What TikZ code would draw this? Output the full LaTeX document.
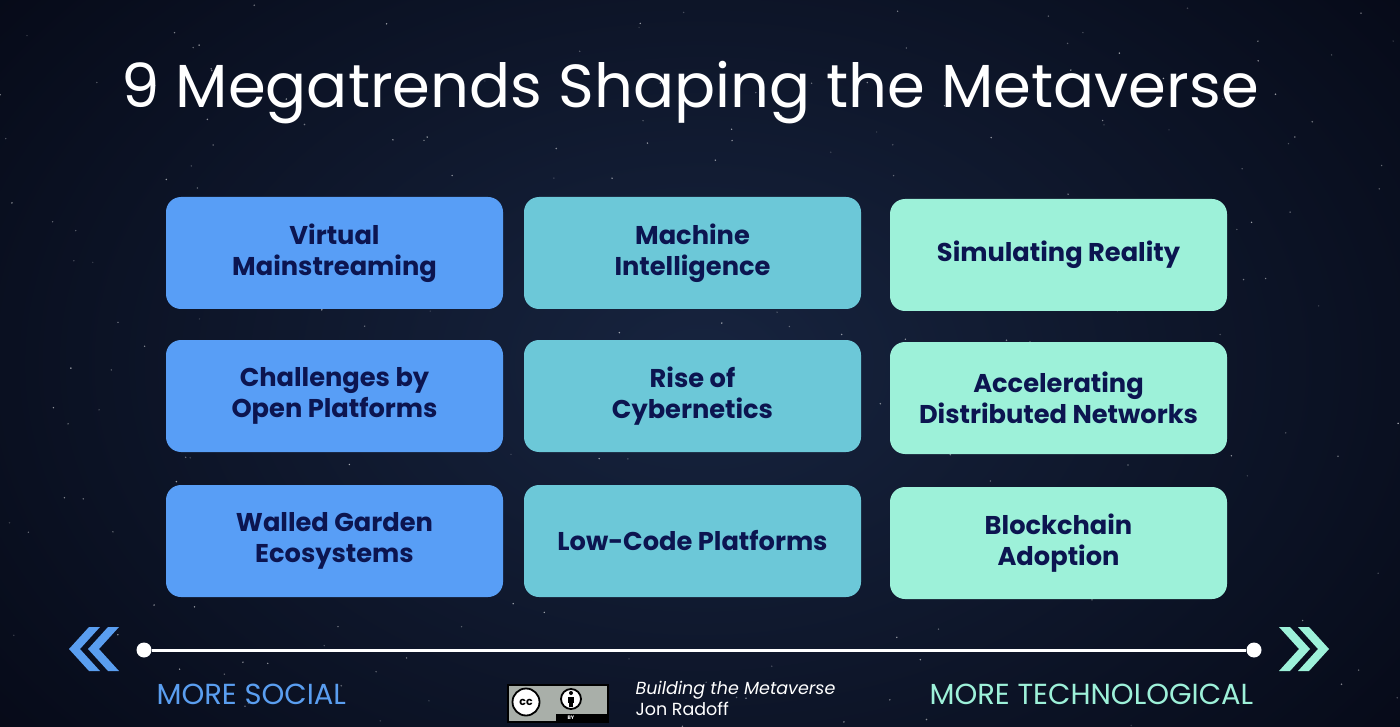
\documentclass[tikz,border=0pt]{standalone}
\usepackage{fontspec}
\setmainfont{Poppins}
\definecolor{bgout}{HTML}{060A18}
\definecolor{bgin}{HTML}{17243F}
\definecolor{cblue}{HTML}{589EF6}
\definecolor{cteal}{HTML}{6CC8D8}
\definecolor{cmint}{HTML}{9DF1D9}
\definecolor{navy}{HTML}{0C1550}
\definecolor{socialblue}{HTML}{5A9EF0}
\definecolor{techmint}{HTML}{9DF1D9}
\definecolor{ccgray}{HTML}{A9AFA9}
\begin{document}
\begin{tikzpicture}[x=1pt,y=-1pt,
  trend/.style={rounded corners=15pt, minimum width=337pt, minimum height=112pt,
    inner sep=0pt, align=center, text=navy,
    font=\bfseries\fontsize{25.7}{31}\selectfont},
  dotnode/.style={circle, fill=white, minimum size=15pt, inner sep=0pt},
  sidelabel/.style={anchor=base west, font=\fontsize{29}{32}\selectfont},
  footer/.style={anchor=base west, text=white, font=\fontsize{17.5}{20}\selectfont}]
% background
\useasboundingbox (0,0) rectangle (1400,727);
\fill[bgout] (0,0) rectangle (1400,727);
\shade[inner color=bgin, outer color=bgout] (-200,-250) rectangle (1600,977);
% stars
\pgfmathsetseed{7}
\foreach \i in {1,...,260}{
  \pgfmathsetmacro\sx{rnd*1400}
  \pgfmathsetmacro\sy{rnd*727}
  \pgfmathsetmacro\so{0.15+0.5*rnd}
  \fill[white, opacity=\so] (\sx,\sy) circle (0.8pt);
}
% title
\node[anchor=base, text=white, font=\fontsize{60.8}{70}\selectfont] (title) at (690,108) {9 Megatrends Shaping the Metaverse};
% boxes
\node[trend, fill=cblue] (b11) at (334.5,253) {Virtual\\Mainstreaming};
\node[trend, fill=cteal] (b12) at (692.5,253) {Machine\\Intelligence};
\node[trend, fill=cmint] (b13) at (1058.5,255) {Simulating Reality};
\node[trend, fill=cblue] (b21) at (334.5,396) {Challenges by\\Open Platforms};
\node[trend, fill=cteal] (b22) at (692.5,396) {Rise of\\Cybernetics};
\node[trend, fill=cmint] (b23) at (1058.5,398) {Accelerating\\Distributed Networks};
\node[trend, fill=cblue] (b31) at (334.5,541) {Walled Garden\\Ecosystems};
\node[trend, fill=cteal] (b32) at (692.5,541) {Low-Code Platforms};
\node[trend, fill=cmint] (b33) at (1058.5,543) {Blockchain\\Adoption};
% timeline
\node[dotnode] (lend) at (144,650) {};
\node[dotnode] (rend) at (1254,650) {};
\draw[white, line width=3pt] (lend) -- (rend);
% chevrons left
\foreach \x in {69,88}{
  \fill[socialblue] (\x,649) -- (\x+20,627) -- (\x+31,627) -- (\x+11,649) -- (\x+31,671) -- (\x+20,671) -- cycle;
}
% chevrons right
\foreach \x in {1329,1310}{
  \fill[techmint] (\x,649) -- (\x-20,627) -- (\x-31,627) -- (\x-11,649) -- (\x-31,671) -- (\x-20,671) -- cycle;
}
% side labels
\node[sidelabel, text=socialblue] (social) at (153,704) {MORE SOCIAL};
\node[sidelabel, text=techmint] (tech) at (926,704) {MORE TECHNOLOGICAL};
% CC logo
\node[draw=black, line width=1.5pt, fill=ccgray, minimum width=100pt, minimum height=37pt, inner sep=0pt] (cc) at (558,703.5) {};
\fill[black] (556,714) rectangle (607,722);
\node[text=white, font=\bfseries\fontsize{5}{5}\selectfont] (ccby) at (571,718) {BY};
\node[circle, draw=black, line width=1.8pt, fill=white, minimum size=27pt, inner sep=0pt, font=\bfseries\fontsize{11}{11}\selectfont] (cccirc) at (526,702) {cc};
\node[circle, draw=black, line width=1.8pt, fill=white, minimum size=20pt, inner sep=0pt] (ccperson) at (571,699) {};
\fill[black] (571,693) circle (2pt);
\fill[black] (568,697) rectangle (574,703);
\fill[black] (569.3,703) rectangle (572.7,707);
% footer
\node[footer, font=\itshape\fontsize{17.5}{20}\selectfont] (book) at (632,694) {Building the Metaverse};
\node[footer] (author) at (632,715) {Jon Radoff};
\end{tikzpicture}
\end{document}
